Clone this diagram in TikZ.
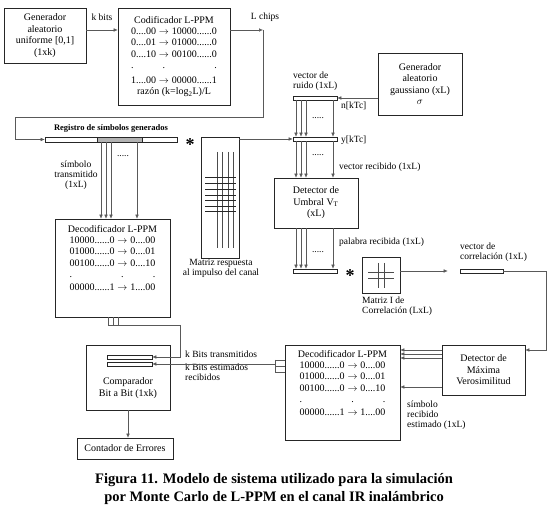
\documentclass[tikz,border=0pt]{standalone}
\usepackage{fontspec}
\setmainfont{Liberation Serif}
\usetikzlibrary{calc,arrows.meta}

\newcommand{\flecha}{$\rightarrow$}
\newcommand{\tabladec}{%
  Decodificador L-PPM\\[2pt]
  \begin{tabular}{@{}l@{\;}c@{\;}r@{}}
    10000......0 & \flecha & 0....00\\
    01000......0 & \flecha & 0....01\\
    00100......0 & \flecha & 0....10\\
    . & . & .\\[1pt]
    00000......1 & \flecha & 1....00
  \end{tabular}}

\begin{document}
\begin{tikzpicture}[x=1pt,y=-1pt]
        \tikzstyle{every node}=[inner sep=0pt]
        \tikzstyle{box}=[draw=black!85, line width=0.6pt, rectangle, align=center, font=\fontsize{10}{11.5}\selectfont]
        \tikzstyle{bar}=[draw=black!85, line width=0.6pt, rectangle, minimum height=4pt, minimum width=44pt]
        \tikzstyle{lbl}=[align=left, font=\fontsize{9.5}{10}\selectfont]
        \tikzstyle{wire}=[draw=black!65, line width=0.5pt]
        \tikzstyle{arr}=[wire, -{Latex[length=4pt,width=3.5pt]}]
        \useasboundingbox (0,0) rectangle (550,510);

        % transmisor
        \node[box, minimum width=82pt, minimum height=55pt] (gen) at (45,35.5) {Generador\\aleatorio\\uniforme [0,1]\\(1xk)};
        \node[box, minimum width=112pt, minimum height=97pt] (cod) at (174,56.5) {%
          Codificador L-PPM\\[2pt]
          \begin{tabular}{@{}l@{\;}c@{\;}r@{}}
            0....00 & \flecha & 10000......0\\
            0....01 & \flecha & 01000......0\\
            0....10 & \flecha & 00100......0\\
            . & . & .\\[3pt]
            1....00 & \flecha & 00000......1
          \end{tabular}\\
          raz\'on (k=log\textsubscript{2}L)/L};
        \node[lbl] (kbits) at (102,17) {k bits};
        \node[lbl] (lchips) at (265,17) {L chips};

        % registro
        \draw[draw=black!85, line width=0.6pt, fill=black!30] (97,137) rectangle (142,142);
        \node[bar, minimum width=132pt, minimum height=5pt] (reg) at (111,139.5) {};
        \node[lbl, font=\fontsize{8.5}{10}\selectfont\bfseries] (reglbl) at (111,128) {Registro de s\'imbolos generados};
        \node[font=\fontsize{18}{18}\selectfont\bfseries] (st1) at (190,145) {*};
        \node[lbl, align=center] (simtx) at (76,175) {s\'imbolo\\transmitido\\(1xL)};
        \node[lbl] (dots1) at (123,156) {.....};

        \node[box, minimum width=115pt, minimum height=98pt] (dec1) at (112.5,268) {};
        \node[box, draw=none, anchor=north] (dec1txt) at ($(dec1.north)+(0,6)$) {\tabladec};

        % canal
        \node[box, minimum width=38pt, minimum height=121pt] (chan) at (220,197.5) {};
        \foreach \x in {217,222,228,233} \draw[black!70, line width=0.4pt] (\x,152) -- (\x,248);
        \foreach \y in {177,183,189,195,200,206,211} \draw[black!85, line width=0.5pt] (205,\y) -- (236,\y);
        \node[lbl, align=center] (chanlbl) at (221,268) {Matriz respuesta\\al impulso del canal};

        % ruido
        \node[box, minimum width=84pt, minimum height=62pt] (gauss) at (420,84) {Generador\\aleatorio\\gaussiano (xL)\\$\sigma$};
        \node[bar] (nbar) at (315,98) {};
        \node[lbl, anchor=south west] (nlbl) at (293,91) {vector de\\ruido (1xL)};
        \node[lbl, anchor=west] (nkt) at (341,106) {n[kTc]};
        \node[lbl] (dots2) at (318,118) {.....};
        \node[bar] (ybar) at (315,139) {};
        \node[lbl, anchor=west] (ykt) at (341,140) {y[kTc]};
        \node[lbl] (dots3) at (318,155) {.....};
        \node[lbl, anchor=west] (vrec) at (339,167) {vector recibido (1xL)};

        % receptor
        \node[box, minimum width=84pt, minimum height=50pt] (det) at (316,203) {Detector de\\Umbral V\textsubscript{T}\\(xL)};
        \node[lbl, anchor=west] (prec) at (339,242) {palabra recibida (1xL)};
        \node[lbl] (dots4) at (318,252) {.....};
        \node[bar] (pbar) at (315,271) {};
        \node[font=\fontsize{18}{18}\selectfont\bfseries] (st2) at (350,276) {*};
        \node[box, minimum width=38pt, minimum height=36pt] (cmat) at (381,275) {};
        \draw[black!70, line width=0.4pt] (378,263) -- (378,288) (384,263) -- (384,288) (368,272) -- (394,272) (368,278) -- (394,278);
        \node[lbl, anchor=north west] (cmatlbl) at (362,297) {Matriz I de\\Correlaci\'on (LxL)};
        \node[bar, minimum width=43pt] (cbar) at (481.5,271) {};
        \node[lbl, anchor=south west] (cbarlbl) at (460,262) {vector de\\correlaci\'on (1xL)};

        \node[box, minimum width=83pt, minimum height=50pt] (ml) at (483.5,370) {Detector de\\M\'axima\\Verosimilitud};
        \node[box, minimum width=115pt, minimum height=95pt] (dec2) at (342.5,392.5) {};
        \node[box, draw=none, anchor=north] (dec2txt) at ($(dec2.north)+(0,5)$) {\tabladec};
        \node[lbl, anchor=north west] (simrec) at (407,401) {s\'imbolo\\recibido\\estimado (1xL)};

        % comparador
        \node[box, minimum width=84pt, minimum height=65pt] (comp) at (128,377.5) {};
        \node[box, draw=none] (comptxt) at (128,388) {Comparador\\Bit a Bit (1xk)};
        \node[bar, minimum width=45pt] (tbar) at (129.5,357) {};
        \node[bar, minimum width=45pt] (ebar) at (129.5,364) {};
        \node[lbl, anchor=west] (ktx) at (185,354) {k Bits transmitidos};
        \node[lbl, anchor=north west] (kest) at (185,364) {k Bits estimados\\recibidos};
        \node[box, minimum width=96pt, minimum height=21pt] (cnt) at (125,448.5) {Contador de Errores};

        \node[font=\fontsize{14.5}{17.5}\selectfont\bfseries, align=center] (cap) at (274,489) {Figura 11. Modelo de sistema utilizado para la simulaci\'on\\por Monte Carlo de L-PPM en el canal IR inal\'ambrico};

        % conexiones
        \coordinate (c1) at (263,30);
        \coordinate (c2) at (15,117);
        \draw[arr] (gen.east |- 0,30) -- (cod.west |- 0,30);
        \draw[arr] (cod.east |- c1) -- (c1);
        \draw[arr] (c1) |- (c2) |- (reg.west);
        \foreach \x in {101,106,111,137} \draw[arr] (\x,0 |- reg.south) -- (\x,0 |- dec1.north);

        \draw[arr] (chan.east |- ybar.west) -- (ybar.west);
        \draw[arr] (gauss.west |- nbar.east) -- (nbar.east);
        \foreach \x in {296,301,306,333} {
          \draw[arr] (\x,0 |- nbar.south) -- (\x,0 |- ybar.north);
          \draw[arr] (\x,0 |- ybar.south) -- (\x,0 |- det.north);
          \draw[arr] (\x,0 |- det.south) -- (\x,0 |- pbar.north);
        }
        \draw[arr, shorten >=12pt] (cmat.east |- cbar.west) -- (cbar.west);
        \coordinate (c3) at (546,350);
        \draw[arr] (cbar.east) -| (c3) -- (c3 -| ml.east);
        \foreach \y in {350,354,358,387} \draw[arr] (ml.west |- 0,\y) -- (dec2.east |- 0,\y);

        \coordinate (c5) at (275,364);
        \foreach \y in {360,366,372} \draw[wire] (dec2.west |- 0,\y) -- (275,\y);
        \draw[wire] (275,360) -- (275,372);
        \draw[arr] (c5) -- (c5 -| ebar.east);

        \coordinate (c4) at (180,325);
        \foreach \x in {108,113,118} \draw[wire] (\x,0 |- dec1.south) -- (\x,325);
        \draw[wire] (108,325) -- (c4);
        \draw[arr] (c4) |- (tbar.east);
        \draw[arr] (comp.south) -- (comp.south |- cnt.north);
    \end{tikzpicture}
\end{document}
